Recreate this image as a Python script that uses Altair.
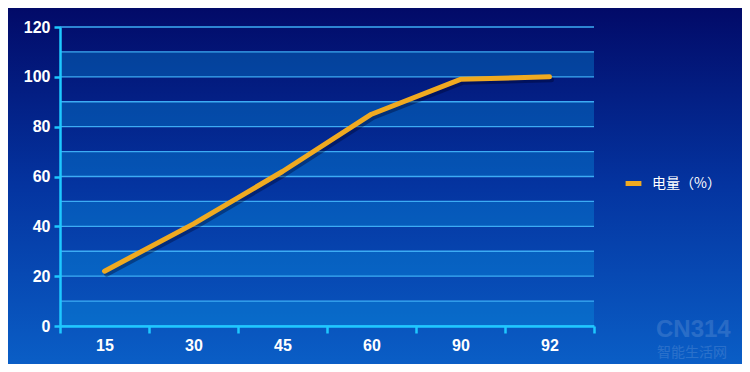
import altair as alt
import pandas as pd

categories = ["15", "30", "45", "60", "90", "92"]
values = [22, 41, 62, 85, 99, 100]
series_name = "电量（%）"
grid_levels = [0, 10, 20, 30, 40, 50, 60, 70, 80, 90, 100, 110, 120]
band_starts = [0, 20, 40, 60, 80, 100]
band_ends = [10, 30, 50, 70, 90, 110]
y_ticks = [0, 20, 40, 60, 80, 100, 120]

W, H = 534, 299
PL, PT, PR, PB = 52, 19, 148, 38

line_df = pd.DataFrame({"cat": categories, "val": values, "series": [series_name] * len(categories)})
grid_df = pd.DataFrame({"lvl": grid_levels})
band_df = pd.DataFrame({"b0": band_starts, "b1": band_ends})
one = pd.DataFrame({"a": [0]})

yscale = alt.Scale(domain=[0, 120], nice=False, zero=True)
xscale = alt.Scale(domain=categories, paddingInner=0, paddingOuter=0)

yaxis = alt.Axis(title=None, values=y_ticks, domainColor="#1ec8ff", domainWidth=2.5,
                 tickColor="#1ec8ff", tickWidth=2.5, tickSize=6,
                 labelColor="white", labelFont="Liberation Sans", labelFontWeight="bold",
                 labelFontSize=16, labelPadding=4, grid=False, zindex=2)
xaxis = alt.Axis(title=None, labelAngle=0, tickBand="extent", domainColor="#1ec8ff",
                 domainWidth=2.5, tickColor="#1ec8ff", tickWidth=2.5, tickSize=7,
                 labelColor="white", labelFont="Liberation Sans", labelFontWeight="bold",
                 labelFontSize=16, labelPadding=4, grid=False, zindex=2)

bg = alt.Chart(one).mark_rect(
    color=alt.Gradient(
        gradient="linear",
        stops=[alt.GradientStop(color="#020a68", offset=0),
               alt.GradientStop(color="#0434a0", offset=0.5),
               alt.GradientStop(color="#0a5ec6", offset=1)],
        x1=0, x2=0, y1=0, y2=1,
    )
).encode(x=alt.value(-PL), x2=alt.value(W + PR), y=alt.value(-PT), y2=alt.value(H + PB))

bands = alt.Chart(band_df).mark_rect(color="#0895e2", opacity=0.35).encode(
    x=alt.value(0), x2=alt.value(W),
    y=alt.Y("b0:Q", scale=yscale, axis=yaxis), y2="b1:Q",
)

grid = alt.Chart(grid_df).mark_rule(color="#3cacf4", strokeWidth=1.4).encode(
    x=alt.value(0), x2=alt.value(W),
    y=alt.Y("lvl:Q", scale=yscale, axis=yaxis),
)

shadow = alt.Chart(line_df).mark_line(
    color="#000022", opacity=0.35, strokeWidth=5, strokeCap="round", strokeJoin="round",
    xOffset=2, yOffset=3,
).encode(
    x=alt.X("cat:N", scale=xscale, sort=categories, axis=xaxis),
    y=alt.Y("val:Q", scale=yscale, axis=yaxis),
)

line = alt.Chart(line_df).mark_line(
    strokeWidth=5, strokeCap="round", strokeJoin="round",
).encode(
    x=alt.X("cat:N", scale=xscale, sort=categories, axis=xaxis),
    y=alt.Y("val:Q", scale=yscale, axis=yaxis),
    color=alt.Color("series:N", scale=alt.Scale(domain=[series_name], range=["#f0aa20"]),
                    legend=alt.Legend(title=None, orient="none", legendX=563, legendY=146,
                                      symbolType="stroke", symbolStrokeWidth=5, symbolSize=250,
                                      labelColor="white", labelFont="Noto Sans CJK SC",
                                      labelFontSize=14, labelOffset=8, zindex=2)),
)

wm1 = alt.Chart(one).mark_text(text="CN314", font="Liberation Sans", fontWeight="bold", fontSize=24,
                                color="#ffffff", opacity=0.13, align="left", baseline="middle").encode(
    x=alt.value(596), y=alt.value(303))
wm2 = alt.Chart(one).mark_text(text="智能生活网", font="Noto Sans CJK SC", fontSize=14,
                                color="#ffffff", opacity=0.13, align="left", baseline="middle").encode(
    x=alt.value(597), y=alt.value(326))

chart = alt.layer(bg, bands, grid, wm1, wm2, shadow, line).properties(
    width=W, height=H,
    padding={"left": PL, "top": PT, "right": PR, "bottom": PB},
    autosize=alt.AutoSizeParams(type="none"),
    background="#0434a0",
).configure_view(stroke=None).resolve_scale(x="shared", y="shared")

chart.save("out.html", embed_options={"renderer": "svg", "actions": False})
